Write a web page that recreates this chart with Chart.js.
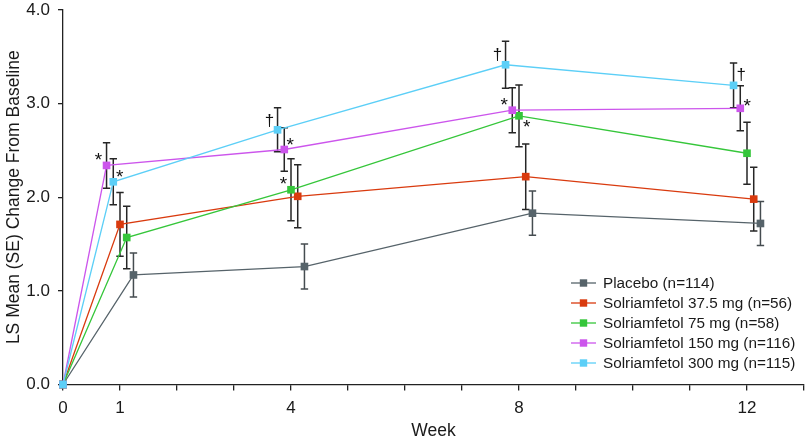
<!DOCTYPE html>
<html>
<head>
<meta charset="utf-8">
<script src="https://cdn.jsdelivr.net/npm/chart.js@4"></script>
<style>
  html, body { margin: 0; padding: 0; background: #fff; }
  #wrap { width: 805px; height: 443px; }
</style>
</head>
<body>
<div id="wrap"><canvas id="lsChart" width="805" height="443"></canvas></div>
<script>
// weeks and LS mean (SE) values
var weeks = [0, 1, 4, 8, 12];
var xTickLabels = ["0", "1", "4", "8", "12"];

var placebo = [0, 1.17, 1.26, 1.83, 1.72];
var placeboSE = [0, 0.235, 0.24, 0.237, 0.235];
var sol37 = [0, 1.71, 2.01, 2.22, 1.98];
var sol37SE = [0, 0.34, 0.337, 0.35, 0.34];
var sol75 = [0, 1.57, 2.08, 2.87, 2.47];
var sol75SE = [0, 0.335, 0.33, 0.33, 0.33];
var sol150 = [0, 2.34, 2.51, 2.93, 2.95];
var sol150SE = [0, 0.243, 0.233, 0.24, 0.24];
var sol300 = [0, 2.165, 2.72, 3.415, 3.195];
var sol300SE = [0, 0.245, 0.235, 0.25, 0.24];

// significance marks per week
var sig75 = ["", "", "*", "*", ""];
var sig150 = ["", "*", "*", "*", "*"];
var sig300 = ["", "*", "\u2020", "\u2020", "\u2020"];
var sigNone = ["", "", "", "", ""];

var labels = ["Placebo (n=114)", "Solriamfetol 37.5 mg (n=56)", "Solriamfetol 75 mg (n=58)",
              "Solriamfetol 150 mg (n=116)", "Solriamfetol 300 mg (n=115)"];

// layout: horizontal dodge slot of each series at each week
var DODGE = 0.118;
var slots = [
  [0, 2, 2, 2, 2],
  [0, 0, 1, 1, 1],
  [0, 1, 0, 0, 0],
  [0, -2, -1, -1, -1],
  [0, -1, -2, -2, -2]
];
// layout: pixel offset of each significance mark from its point
var markOffset = {
  "2:2": [-7.5, -10], "2:3": [7.7, 7],
  "3:1": [-8, -10], "3:2": [6, -9], "3:3": [-8, -10], "3:4": [7, -7],
  "4:1": [6.5, -9], "4:2": [-8, -9], "4:3": [-8, -10], "4:4": [7.7, -10]
};

var colors = ["#56636a", "#d93a0e", "#35c63a", "#cc55ec", "#5ccff7"];
var FONT = "'Liberation Sans', Arial, Helvetica, sans-serif";

var values = [placebo, sol37, sol75, sol150, sol300];
var errors = [placeboSE, sol37SE, sol75SE, sol150SE, sol300SE];
var sigs = [sigNone, sigNone, sig75, sig150, sig300];

function points(s) {
  return weeks.map(function (w, i) {
    return { x: w + slots[s][i] * DODGE, y: values[s][i] };
  });
}

var datasets = labels.map(function (lab, s) {
  return {
    label: lab,
    data: points(s),
    borderColor: colors[s],
    backgroundColor: colors[s],
    borderWidth: 1.3,
    pointStyle: "rect",
    pointRadius: 5.4,
    pointBorderWidth: 0,
    pointHoverRadius: 5.4,
    order: 5 - s,
    clip: false,
    tension: 0
  };
});

// error bars + significance marks
var errorBars = {
  id: "errorBars",
  beforeDatasetsDraw: function (chart) {
    var ctx = chart.ctx, yS = chart.scales.y;
    ctx.save();
    for (var s = 0; s < values.length; s++) {
      var meta = chart.getDatasetMeta(s);
      ctx.strokeStyle = s === 0 ? "#454c50" : "#262626";
      ctx.lineWidth = 1.5;
      for (var i = 0; i < weeks.length; i++) {
        var se = errors[s][i];
        if (!se) continue;
        var x = meta.data[i].x;
        var yt = yS.getPixelForValue(values[s][i] + se);
        var yb = yS.getPixelForValue(values[s][i] - se);
        ctx.beginPath();
        ctx.moveTo(x, yt); ctx.lineTo(x, yb);
        ctx.moveTo(x - 3.7, yt); ctx.lineTo(x + 3.7, yt);
        ctx.moveTo(x - 3.7, yb); ctx.lineTo(x + 3.7, yb);
        ctx.stroke();
      }
    }
    ctx.restore();
  },
  afterDatasetsDraw: function (chart) {
    var ctx = chart.ctx;
    ctx.save();
    ctx.fillStyle = "#111";
    ctx.textAlign = "center";
    ctx.textBaseline = "alphabetic";
    for (var s = 0; s < sigs.length; s++) {
      var meta = chart.getDatasetMeta(s);
      for (var i = 0; i < weeks.length; i++) {
        var m = sigs[s][i];
        if (!m) continue;
        var off = markOffset[s + ":" + i] || [8, -9];
        var cx = meta.data[i].x + off[0];
        var cy = meta.data[i].y + off[1];
        if (m === "*") {
          ctx.font = "19px " + FONT;
          ctx.fillText(m, cx, cy + 10.5);
        } else {
          ctx.font = "17px " + FONT;
          ctx.fillText(m, cx, cy + 5);
        }
      }
    }
    ctx.restore();
  }
};

// legend drawn inside the plot, line + square swatch
var insideLegend = {
  id: "insideLegend",
  afterDraw: function (chart) {
    var ctx = chart.ctx, a = chart.chartArea;
    var x0 = a.left + 508, y0 = a.top + 273;
    ctx.save();
    ctx.font = "15.3px " + FONT;
    ctx.textBaseline = "middle";
    ctx.textAlign = "left";
    for (var s = 0; s < labels.length; s++) {
      var y = y0 + s * 20;
      ctx.strokeStyle = colors[s];
      ctx.lineWidth = 1.3;
      ctx.beginPath();
      ctx.moveTo(x0, y); ctx.lineTo(x0 + 25, y);
      ctx.stroke();
      ctx.fillStyle = colors[s];
      ctx.fillRect(x0 + 12.5 - 3.7, y - 3.7, 7.4, 7.4);
      ctx.fillStyle = "#1a1a1a";
      ctx.fillText(labels[s], x0 + 32, y + 0.5);
    }
    ctx.restore();
  }
};

var ctx = document.getElementById("lsChart");
var lsChart = new Chart(ctx, {
  type: "line",
  data: { datasets: datasets },
  plugins: [errorBars, insideLegend],
  options: {
    responsive: false,
    animation: false,
    events: [],
    layout: { autoPadding: false, padding: { top: 10, right: 1, left: 0, bottom: 0 } },
    plugins: { legend: { display: false }, tooltip: { enabled: false } },
    scales: {
      x: {
        type: "linear",
        min: 0,
        max: 13,
        afterFit: function (scale) {
          scale.height = 58.5;
          scale.paddingLeft = 0;
          scale.paddingRight = 0;
        },
        ticks: {
          stepSize: 1,
          autoSkip: false,
          maxRotation: 0,
          padding: 7.5,
          color: "#1a1a1a",
          font: { family: FONT, size: 17 },
          callback: function (v) {
            var k = weeks.indexOf(v);
            return k >= 0 ? xTickLabels[k] : "";
          }
        },
        grid: { drawOnChartArea: false, drawTicks: true, tickLength: 6, color: "#222", lineWidth: 1.3 },
        border: { display: true, color: "#222", width: 1.3 },
        title: {
          display: true,
          text: "Week",
          color: "#1a1a1a",
          font: { family: FONT, size: 17.5 },
          padding: { top: 0, bottom: 1 }
        }
      },
      y: {
        min: 0,
        max: 4,
        afterFit: function (scale) {
          scale.width = 63;
          scale.paddingTop = 0;
          scale.paddingBottom = 0;
        },
        ticks: {
          stepSize: 1,
          padding: 8,
          color: "#1a1a1a",
          font: { family: FONT, size: 17 },
          callback: function (v) { return v.toFixed(1); }
        },
        grid: { drawOnChartArea: false, drawTicks: true, tickLength: 5, color: "#222", lineWidth: 1.3 },
        border: { display: true, color: "#222", width: 1.3 },
        title: {
          display: true,
          text: "LS Mean (SE) Change From Baseline",
          color: "#1a1a1a",
          font: { family: FONT, size: 17.5 },
          padding: { top: 4, bottom: 0 }
        }
      }
    }
  }
});
</script>
</body>
</html>
